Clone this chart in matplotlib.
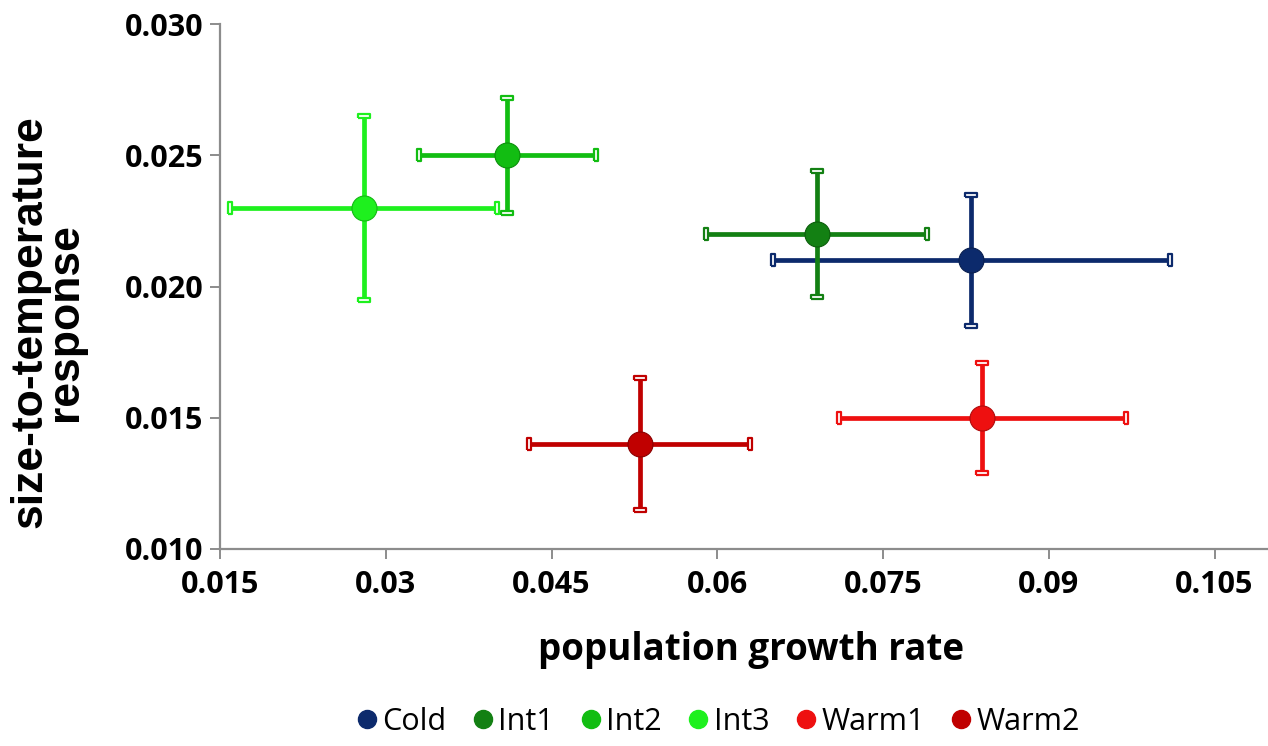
import matplotlib
matplotlib.use("Agg")
import matplotlib.pyplot as plt
from matplotlib.lines import Line2D

groups = ["Cold", "Int1", "Int2", "Int3", "Warm1", "Warm2"]
growth = [0.083, 0.069, 0.041, 0.028, 0.084, 0.053]
growth_err = [0.018, 0.010, 0.008, 0.0121, 0.013, 0.010]
response = [0.021, 0.022, 0.025, 0.023, 0.015, 0.014]
response_err = [0.0025, 0.0024, 0.0022, 0.0035, 0.0021, 0.0025]
colors = ["#0c2a6c", "#138013", "#12bd12", "#1ef01e", "#ee1010", "#c00000"]
edge_colors = ["#0a2050", "#0c5e0c", "#0c8f0c", "#14b814", "#b00c0c", "#8a0000"]

xticks = [0.015, 0.03, 0.045, 0.06, 0.075, 0.09, 0.105]
xtick_labels = ["0.015", "0.03", "0.045", "0.06", "0.075", "0.09", "0.105"]
yticks = [0.010, 0.015, 0.020, 0.025, 0.030]
ytick_labels = ["0.010", "0.015", "0.020", "0.025", "0.030"]

W, H = 1268, 746
fig = plt.figure(figsize=(W / 100, H / 100), dpi=100)
ax = fig.add_axes([220 / W, 1 - 549 / H, 1 - 220 / W, (549 - 24.3) / H])

# hollow rectangular cap markers
tall_rect = [(-0.3, -1), (0.3, -1), (0.3, 1), (-0.3, 1), (-0.3, -1)]
wide_rect = [(-1, -0.3), (1, -0.3), (1, 0.3), (-1, 0.3), (-1, -0.3)]

for i, g in enumerate(groups):
    ax.errorbar(growth[i], response[i], xerr=growth_err[i], yerr=response_err[i],
                fmt="o", color=colors[i], ecolor=colors[i], elinewidth=3.4,
                capsize=0, markersize=18,
                markerfacecolor=colors[i], markeredgecolor=edge_colors[i],
                markeredgewidth=0.8, zorder=3)
    ax.plot([growth[i] - growth_err[i], growth[i] + growth_err[i]],
            [response[i], response[i]], linestyle="none", marker=tall_rect,
            markersize=8.5, markerfacecolor="white", markeredgecolor=colors[i],
            markeredgewidth=1.6, zorder=4)
    ax.plot([growth[i], growth[i]],
            [response[i] - response_err[i], response[i] + response_err[i]],
            linestyle="none", marker=wide_rect,
            markersize=8.5, markerfacecolor="white", markeredgecolor=colors[i],
            markeredgewidth=1.6, zorder=4)

ax.set_xlim(0.015, 0.015 + (W - 220) / 165.75 * 0.015)
ax.set_ylim(0.010, 0.030)
ax.set_xticks(xticks)
ax.set_xticklabels(xtick_labels)
ax.set_yticks(yticks)
ax.set_yticklabels(ytick_labels)

for s in ["top", "right"]:
    ax.spines[s].set_visible(False)
for s in ["left", "bottom"]:
    ax.spines[s].set_color("#8c8c8c")
    ax.spines[s].set_linewidth(1.6)
ax.tick_params(axis="both", direction="out", length=7, width=1.4, color="#8c8c8c")
ax.tick_params(axis="x", pad=8)
ax.tick_params(axis="y", pad=5)
for lab in ax.get_xticklabels() + ax.get_yticklabels():
    lab.set_fontfamily("Open Sans")
    lab.set_fontweight("bold")
    lab.set_fontsize(22)

fig.text(751 / W, 1 - 650 / H, "population growth rate", ha="center", va="center",
         fontfamily="Open Sans", fontweight="bold", fontsize=26.5)

fig.text(47.5 / W, 1 - 322 / H, "size-to-temperature\nresponse", rotation=90,
         ha="center", va="center", multialignment="center", linespacing=0.82,
         fontfamily="Liberation Sans", fontweight="bold", fontsize=32)

handles = [Line2D([], [], linestyle="none", marker="o", markersize=13,
                  markerfacecolor=colors[i], markeredgecolor=colors[i])
           for i in range(len(groups))]
fig.legend(handles, groups, loc="center", bbox_to_anchor=(716 / W, 1 - 722 / H),
           ncol=6, frameon=False, handletextpad=0.0, columnspacing=0.7,
           handlelength=1.0, prop={"family": "Open Sans", "size": 22})

fig.savefig("out.png", dpi=100, facecolor="white")
